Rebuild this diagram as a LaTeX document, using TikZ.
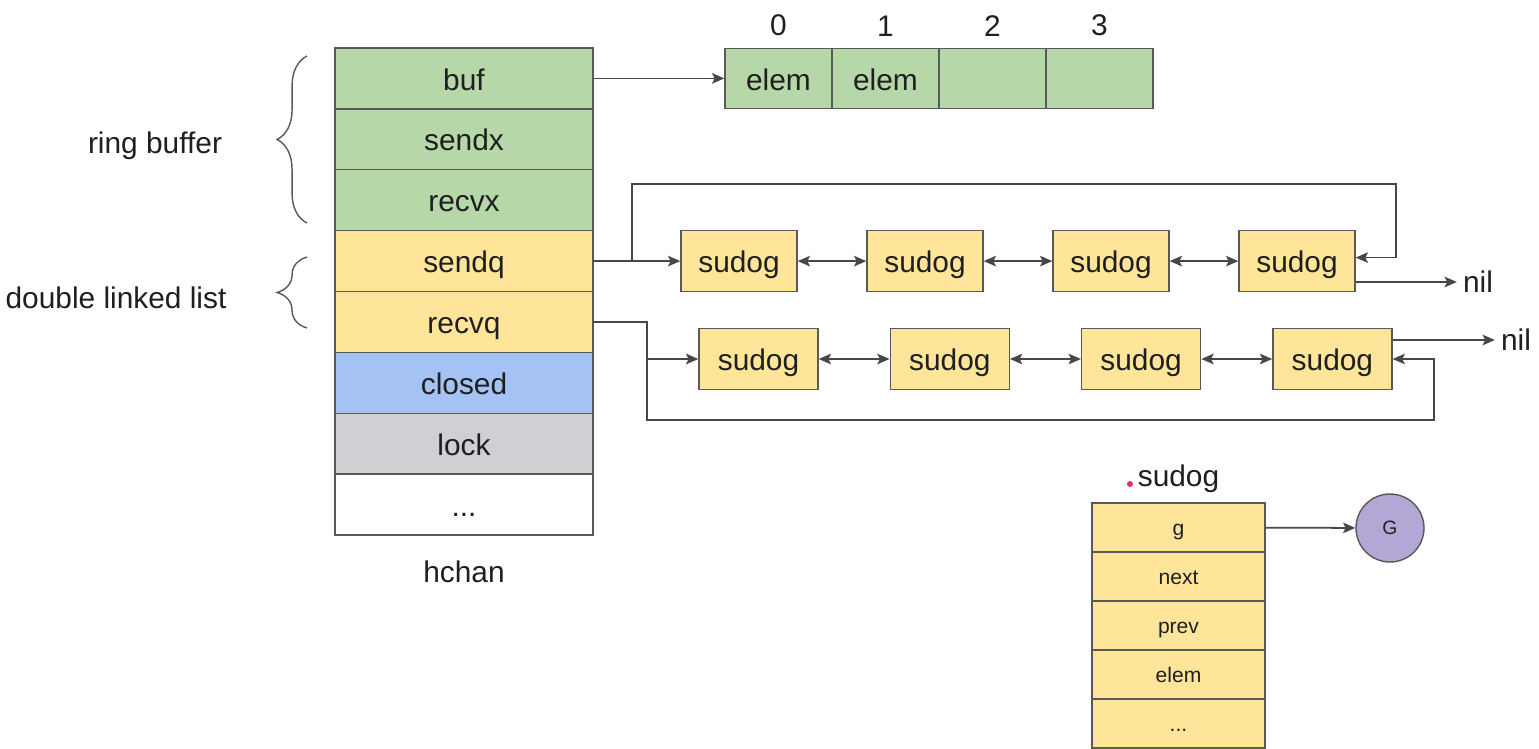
\documentclass[tikz,border=0pt]{standalone}
\usepackage{fontspec}
\setmainfont{Liberation Sans}
\usetikzlibrary{arrows.meta,positioning,decorations.pathreplacing}

\definecolor{ringc}{HTML}{B6D7A8}
\definecolor{listc}{HTML}{FFE599}
\definecolor{closedc}{HTML}{A4C2F4}
\definecolor{lockc}{HTML}{D0CFD4}
\definecolor{gorc}{HTML}{B4A7D6}
\definecolor{edgec}{HTML}{595959}
\definecolor{arrc}{HTML}{474747}
\definecolor{txtc}{HTML}{1F1F1F}
\definecolor{dotc}{HTML}{E8305A}

\newcommand\restdots{...}

\tikzset{
  box/.style={draw=edgec, line width=0.8pt, inner sep=0pt, text=txtc, font=\fontsize{17}{20}\selectfont,
    text height=13.3pt, text depth=0pt},
  field/.style={box, minimum width=5.16cm, minimum height=1.2175cm},
  cell/.style={box, fill=ringc, minimum width=2.14cm, minimum height=1.2cm},
  sudog/.style={box, fill=listc, minimum width=2.32cm, minimum height=1.22cm},
  member/.style={box, fill=listc, minimum width=3.46cm, minimum height=0.98cm, font=\fontsize{12}{14}\selectfont,
    text height=9.2pt},
  lbl/.style={text=txtc, font=\fontsize{17}{20}\selectfont},
  arr/.style={draw=arrc, line width=1pt, -{Stealth[length=7pt,width=6pt,inset=1.5pt]}},
  dbl/.style={draw=arrc, line width=1pt, {Stealth[length=7pt,width=6pt,inset=1.5pt]}-{Stealth[length=7pt,width=6pt,inset=1.5pt]}},
  wire/.style={draw=arrc, line width=1pt},
  brc/.style={draw=edgec, line width=0.8pt, decorate, decoration={brace, amplitude=17pt}},
}

\begin{document}
\begin{tikzpicture}[x=0.02cm, y=-0.02cm]
    \useasboundingbox (0,0) rectangle (1539,748);

    % hchan
    \foreach \name/\txt/\col [count=\i from 0] in {buf/buf/ringc, sendx/sendx/ringc, recvx/recvx/ringc,
        sendq/sendq/listc, recvq/recvq/listc, closed/closed/closedc, lock/lock/lockc, rest/\restdots/white}
        \node[field, fill=\col] (\name) at (464, {78.4+60.875*\i}) {\txt};
    \node[lbl, below=11pt of rest] (hchan) {hchan};

    % braces
    \draw[brc] (307,223) -- (307,56);
    \node[lbl] (ringlbl) at (155,146) {ring buffer};
    \draw[brc] (307,328) -- (307,257);
    \node[lbl] (listlbl) at (116,298) {double linked list};

    % ring buffer cells
    \foreach \i/\txt in {0/elem, 1/elem, 2/, 3/} {
        \node[cell] (cell\i) at ({778.5+107*\i}, 78.4) {\txt};
        \node[lbl, above=3pt of cell\i] (idx\i) {\i};
    }
    \draw[arr] (buf) -- (cell0);

    % sendq list
    \foreach \i in {1,...,4}
        \node[sudog] (s\i) at ({739+186*(\i-1)}, 261.1) {sudog};
    \foreach \a/\b in {1/2, 2/3, 3/4}
        \draw[dbl] (s\a) -- (s\b);
    \coordinate (sqloop) at (632,261.1);
    \draw[arr] (sendq) -- (s1);
    \draw[arr] (sqloop) |- (1396,184) |- ([yshift=2pt]s4.east);
    \node[lbl] (nil1) at (1478,282) {nil};
    \draw[arr] (s4.east |- nil1) -- (nil1);

    % recvq list
    \foreach \i in {1,...,4}
        \node[sudog, minimum width=2.38cm] (r\i) at ({758.5+191.3*(\i-1)}, 359) {sudog};
    \foreach \a/\b in {1/2, 2/3, 3/4}
        \draw[dbl] (r\a) -- (r\b);
    \coordinate (rqloop) at (647,359);
    \draw[wire] (recvq.east) -| (rqloop);
    \draw[arr] (rqloop) -- (r1);
    \draw[arr] (rqloop) |- (1434,420) |- (r4.east);
    \node[lbl] (nil2) at (1516,340) {nil};
    \draw[arr] (r4.east |- nil2) -- (nil2);

    % sudog struct
    \foreach \name/\txt [count=\i from 0] in {gf/g, nextf/next, prevf/prev, elemf/elem, restf/\restdots}
        \node[member] (\name) at (1178.5, {527.5+49*\i}) {\txt};
    \node[lbl, above=2pt of gf] (sudoglbl) {sudog};
    \fill[dotc] (1130,484) circle (1.7pt);

    \node[circle, draw=edgec, line width=0.8pt, fill=gorc, minimum size=1.36cm, inner sep=0pt,
        text=txtc, font=\fontsize{11}{13}\selectfont] (G) at (1390,528) {G};
    \draw[arr] (gf) -- (G);
\end{tikzpicture}
\end{document}
